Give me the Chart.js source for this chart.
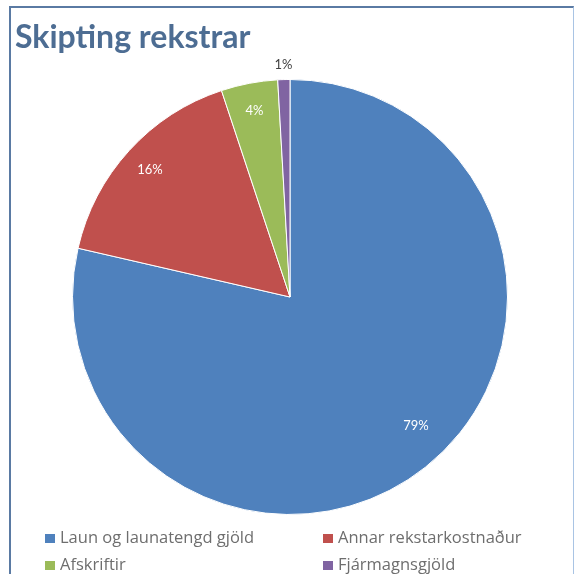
<!DOCTYPE html>
<html>
<head>
<meta charset="utf-8">
<script src="https://cdn.jsdelivr.net/npm/chart.js@4/dist/chart.umd.min.js"></script>
<style>
  html, body { margin: 0; padding: 0; background: #ffffff; }
  body { width: 576px; height: 574px; position: relative; overflow: hidden; font-family: Lato, "Open Sans", sans-serif; }
  #frame {
    position: absolute; left: 9px; top: 6px; width: 562px; height: 600px;
    border-top: 2px solid #5a7aa3; border-left: 2px solid #5a7aa3; border-right: 1px solid #a9c4e4;
  }
  #title {
    position: absolute; left: 15px; top: 16px; margin: 0;
    font-size: 32px; font-weight: bold; color: #4d6d93; white-space: nowrap;
  }
  #chartBox { position: absolute; left: 0; top: 0; width: 576px; height: 574px; }
  #legend { position: absolute; left: 0; top: 0; }
  .item { position: absolute; font-family: "Open Sans", sans-serif; font-size: 16.5px; color: #6e6e6e; white-space: nowrap; line-height: 16px; }
  .item span { display: inline-block; width: 10px; height: 9px; margin-right: 5px; vertical-align: 0px; }
</style>
</head>
<body>
<div id="frame"></div>
<div id="chartBox"><canvas id="myChart" width="576" height="574"></canvas></div>
<h1 id="title">Skipting rekstrar</h1>
<div id="legend"></div>
<script>
let categories = ['Laun og launatengd gjöld', 'Annar rekstarkostnaður', 'Afskriftir', 'Fjármagnsgjöld'];
let shares = [78.6, 16.3, 4.2, 0.9];
let colors = ['#4f81bd', '#c0504d', '#9bbb59', '#8064a2'];

// percentage labels on / beside the slices
let sliceLabels = {
    id: 'sliceLabels',
    afterDatasetsDraw(chart) {
        let ctx = chart.ctx;
        let arcs = chart.getDatasetMeta(0).data;
        let total = shares.reduce((a, b) => a + b, 0);
        ctx.save();
        ctx.font = '13px Lato, "Open Sans", sans-serif';
        ctx.textAlign = 'center';
        ctx.textBaseline = 'middle';
        arcs.forEach((arc, i) => {
            let pct = shares[i] / total * 100;
            let mid = (arc.startAngle + arc.endAngle) / 2;
            let outside = pct < 2;
            let r = arc.outerRadius * (outside ? 1.07 : 0.87);
            // big slice label sits a little nearer the vertical, as in the original
            if (pct > 50) {
                mid -= 0.1;
                r = arc.outerRadius * 0.83;
            }
            ctx.fillStyle = outside ? '#404040' : '#ffffff';
            ctx.fillText(Math.round(pct) + '%', arc.x + Math.cos(mid) * r, arc.y + Math.sin(mid) * r);
        });
        ctx.restore();
    }
};

let ctx = document.getElementById('myChart');
let myChart = new Chart(ctx, {
    type: 'pie',
    data: {
        labels: categories,
        datasets: [{
            data: shares,
            backgroundColor: colors,
            borderColor: '#ffffff',
            borderWidth: 1,
            hoverOffset: 0
        }]
    },
    options: {
        responsive: false,
        animation: false,
        layout: { padding: { left: 72, right: 68, top: 79, bottom: 59 } },
        plugins: {
            legend: { display: false },
            tooltip: { enabled: false }
        }
    },
    plugins: [sliceLabels]
});

// legend in two columns, like the original
let legend = document.getElementById('legend');
let spots = [[45, 529], [323, 529], [45, 556], [323, 556]];
categories.forEach((name, i) => {
    let item = document.createElement('div');
    item.className = 'item';
    item.style.left = spots[i][0] + 'px';
    item.style.top = spots[i][1] + 'px';
    item.innerHTML = '<span style="background:' + colors[i] + '"></span>' + name;
    legend.appendChild(item);
});
</script>
</body>
</html>
